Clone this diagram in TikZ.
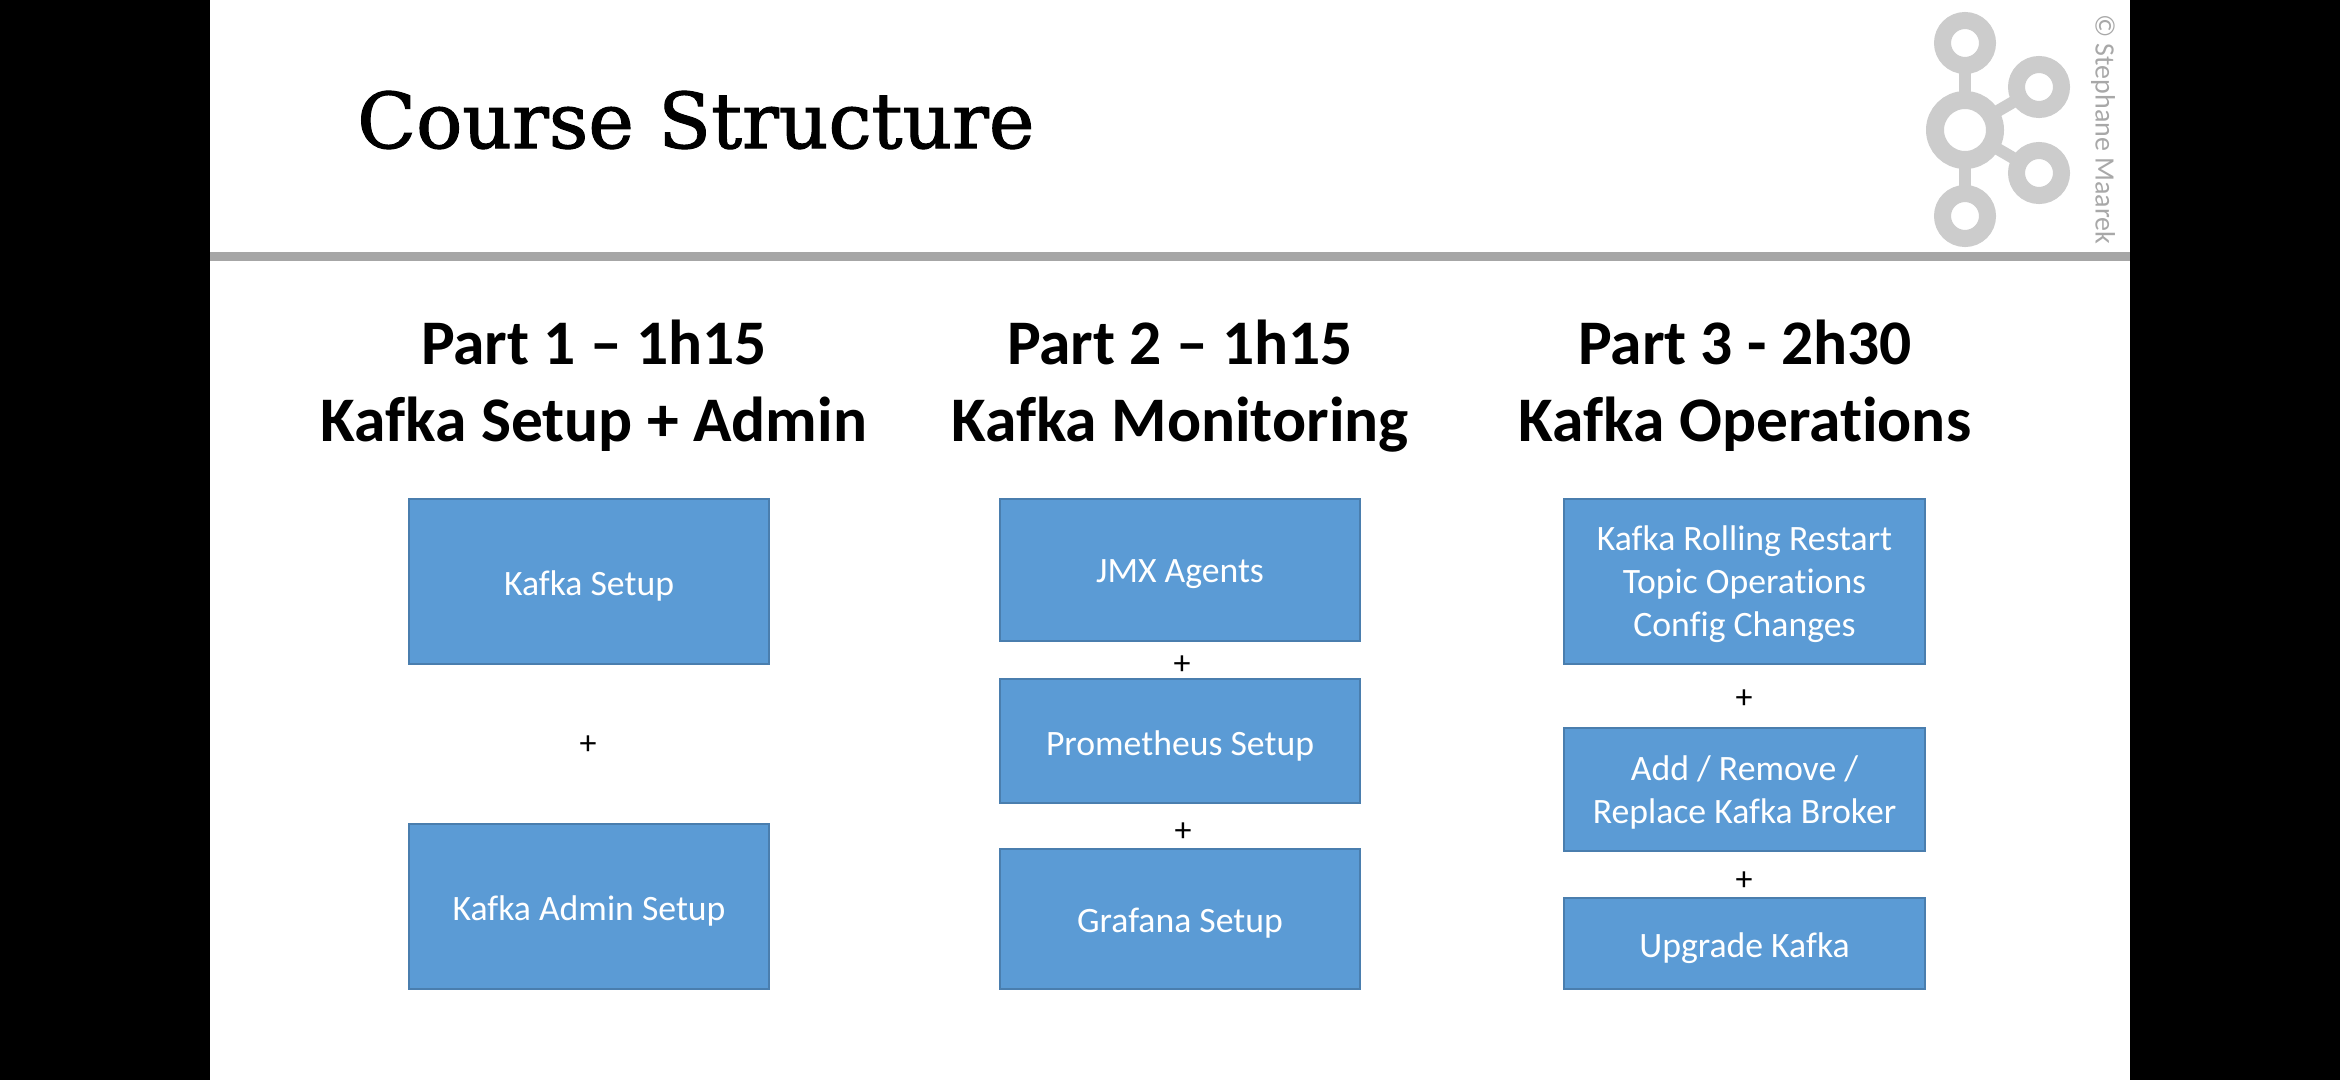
\documentclass[tikz,border=0pt]{standalone}
\usepackage{fontspec}
\setmainfont[Ligatures=NoCommon]{Carlito}
\newfontfamily\titlefont[FakeBold=1.4]{DejaVu Serif}
\definecolor{boxblue}{HTML}{5B9BD5}
\definecolor{boxedge}{HTML}{4A7EAE}
\definecolor{logogray}{HTML}{CCCCCC}
\definecolor{rulegray}{HTML}{A6A6A6}
\definecolor{credit}{HTML}{A8A8A8}
\tikzset{
  blue box/.style={draw=boxedge,line width=1.5pt,fill=boxblue,text=white,align=center,inner sep=0pt,font=\fontsize{35.7}{43}\selectfont},
  part head/.style={align=center,inner sep=0pt,font=\fontsize{63.5}{77}\selectfont\bfseries},
  plus sign/.style={inner sep=0pt,font=\fontsize{34}{36}\selectfont},
  logo ring/.style={draw=logogray,fill=white,circle,inner sep=0pt},
}
\newcommand{\bluebox}[6]{\node[blue box,minimum width=#3pt-#1pt,minimum height=#4pt-#2pt] (#5) at ({(#1+#3)/2},{(#2+#4)/2}) {\vbox{\vskip9pt\halign{\hfil##\hfil\cr#6\crcr}}};}
\begin{document}
\begin{tikzpicture}[x=1pt,y=-1pt]
\path[use as bounding box,fill=black] (0,0) rectangle (2340,1080);
\fill[white] (210,0) rectangle (2130,1080);
% header rule
\fill[rulegray] (210,252) rectangle (2130,261);
% title
\node[inner sep=0pt,anchor=west,font=\titlefont\fontsize{77}{90}\selectfont] (title) at (357,120) {Course Structure};
% logo
\coordinate (hub) at (1965,130);
\coordinate (ltop) at (1965,43);
\coordinate (lbot) at (1965,216);
\coordinate (lrt) at (2039,87);
\coordinate (lrb) at (2039,173);
\foreach \o in {ltop,lbot,lrt,lrb}{\draw[logogray,line width=12pt] (hub) -- (\o);}
\foreach \o in {ltop,lbot,lrt,lrb}{\node[logo ring,line width=17pt,minimum size=45pt] at (\o) {};}
\node[logo ring,line width=18pt,minimum size=60pt] at (hub) {};
\node[rotate=-90,anchor=west,inner sep=0pt,text=credit,font=\fontsize{28}{30}\selectfont] (copy) at (2103,14) {© Stephane Maarek};
% headings
\node[part head] (h1) at (594,386) {Part 1 – 1h15\\Kafka Setup + Admin};
\node[part head] (h2) at (1180,386) {Part 2 – 1h15\\Kafka Monitoring};
\node[part head] (h3) at (1745,386) {Part 3 - 2h30\\Kafka Operations};
% column 1
\bluebox{409}{499}{769}{664}{a1}{Kafka Setup}
\bluebox{409}{824}{769}{989}{a2}{Kafka Admin Setup}
\node[plus sign] (p1) at (588,745) {+};
% column 2
\bluebox{1000}{499}{1360}{641}{b1}{JMX Agents}
\bluebox{1000}{679}{1360}{803}{b2}{Prometheus Setup}
\bluebox{1000}{849}{1360}{989}{b3}{Grafana Setup}
\node[plus sign] (p2) at (1182,665) {+};
\node[plus sign] (p3) at (1183,832) {+};
% column 3
\bluebox{1564}{499}{1925}{664}{c1}{\noalign{\vskip-3pt}Kafka Rolling Restart\cr Topic Operations\cr Config Changes}
\bluebox{1564}{728}{1925}{851}{c2}{\noalign{\vskip-3pt}Add / Remove /\cr Replace Kafka Broker}
\bluebox{1564}{898}{1925}{989}{c3}{Upgrade Kafka}
\node[plus sign] (p4) at (1744,699) {+};
\node[plus sign] (p5) at (1744,881) {+};
\end{tikzpicture}
\end{document}
